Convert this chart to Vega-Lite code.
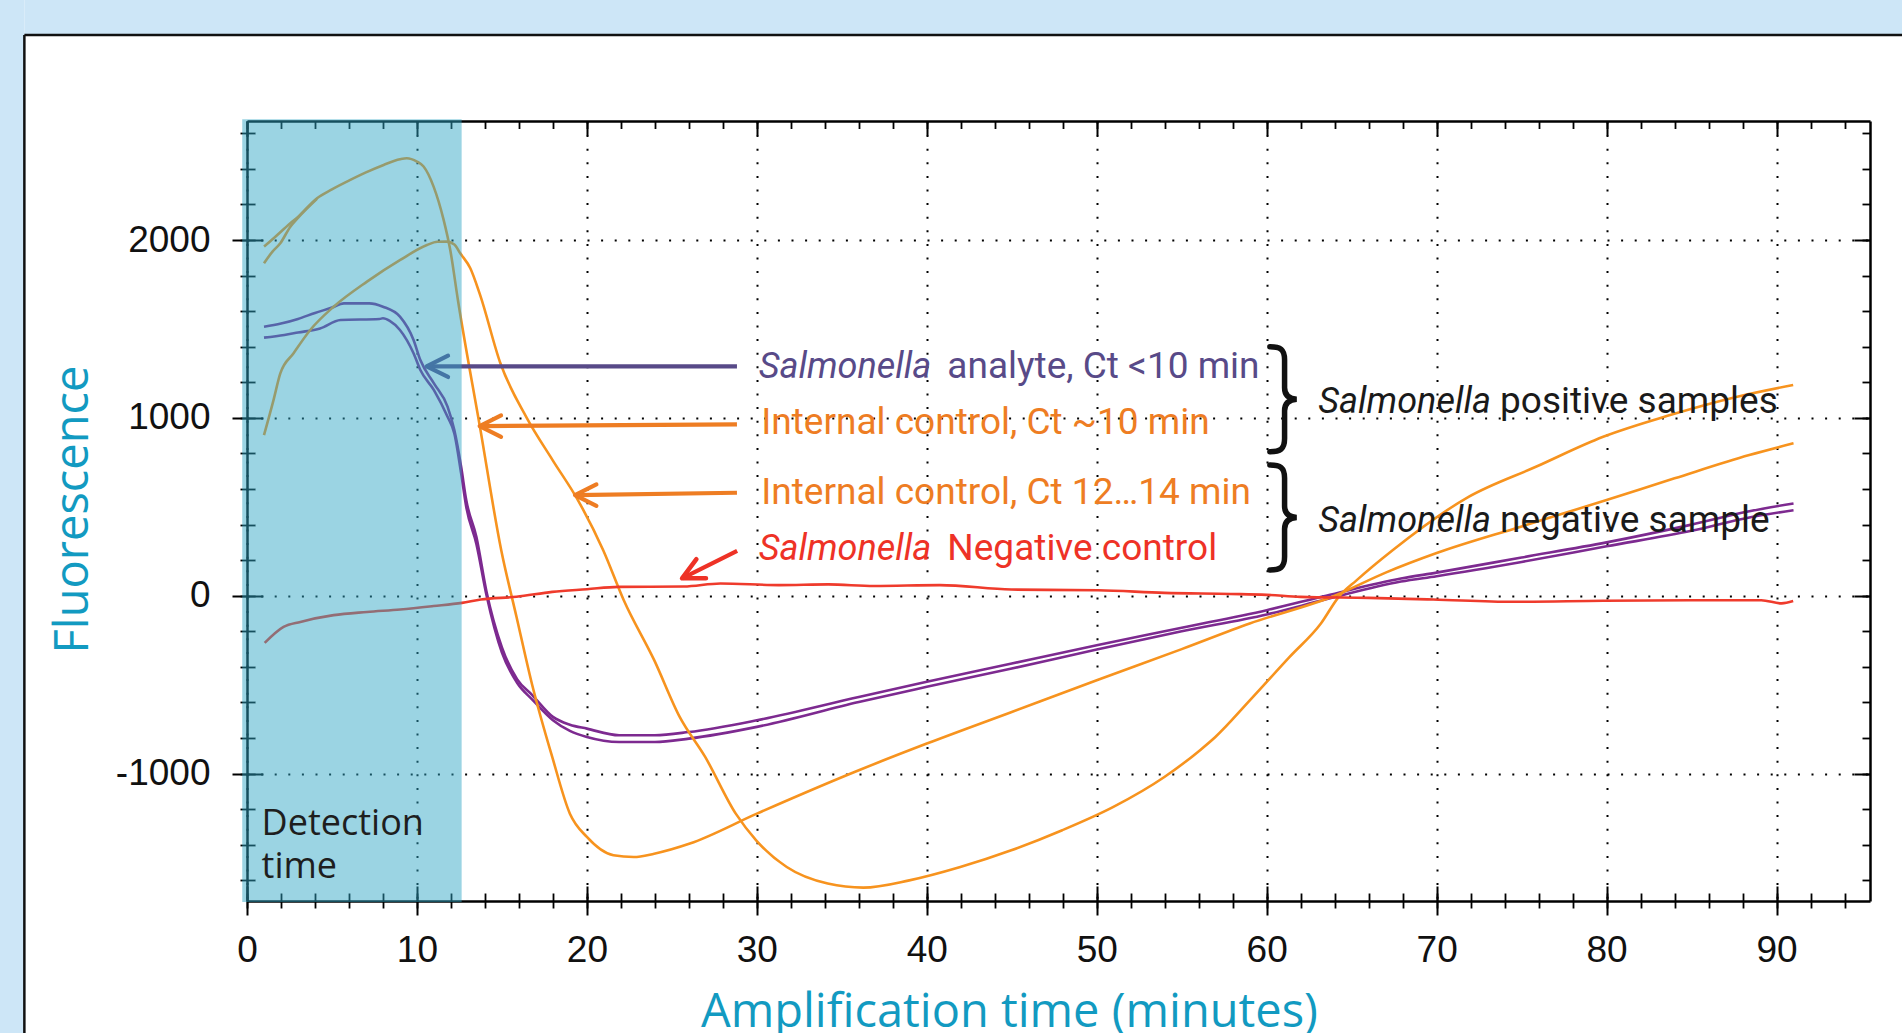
{
  "$schema": "https://vega.github.io/schema/vega-lite/v6.json",
  "width": 1623,
  "height": 780,
  "autosize": {"type": "none"},
  "padding": {"left": 247, "top": 121, "right": 32, "bottom": 132},
  "background": "#ffffff",
  "config": {"view": {"stroke": null}},
  "datasets": {
    "curves": [
      {"s":"A1","t":1.0,"v":1512},{"s":"A1","t":2.0,"v":1530},{"s":"A1","t":3.0,"v":1556},{"s":"A1","t":4.0,"v":1590},{"s":"A1","t":5.0,"v":1620},{"s":"A1","t":5.7,"v":1644},{"s":"A1","t":7.2,"v":1644},{"s":"A1","t":8.0,"v":1625},{"s":"A1","t":9.0,"v":1569},{"s":"A1","t":9.8,"v":1438},{"s":"A1","t":10.2,"v":1325},{"s":"A1","t":11.0,"v":1194},{"s":"A1","t":11.8,"v":1063},{"s":"A1","t":12.2,"v":931},{"s":"A1","t":12.6,"v":725},{"s":"A1","t":12.9,"v":538},{"s":"A1","t":13.5,"v":330},{"s":"A1","t":14.1,"v":20},{"s":"A1","t":15.0,"v":-290},{"s":"A1","t":15.9,"v":-470},{"s":"A1","t":16.8,"v":-560},{"s":"A1","t":18.0,"v":-681},{"s":"A1","t":19.0,"v":-725},{"s":"A1","t":20.0,"v":-747},{"s":"A1","t":21.9,"v":-784},{"s":"A1","t":24.0,"v":-784},{"s":"A1","t":26.0,"v":-766},{"s":"A1","t":30.0,"v":-700},{"s":"A1","t":36.0,"v":-569},{"s":"A1","t":40.0,"v":-484},{"s":"A1","t":45.0,"v":-381},{"s":"A1","t":50.0,"v":-278},{"s":"A1","t":55.0,"v":-180},{"s":"A1","t":60.0,"v":-81},{"s":"A1","t":63.5,"v":0},{"s":"A1","t":67.9,"v":97},{"s":"A1","t":70.0,"v":130},{"s":"A1","t":75.0,"v":215},{"s":"A1","t":80.0,"v":300},{"s":"A1","t":85.0,"v":400},{"s":"A1","t":88.4,"v":475},{"s":"A1","t":91.0,"v":519},
      {"s":"A2","t":1.0,"v":1451},{"s":"A2","t":2.2,"v":1466},{"s":"A2","t":3.0,"v":1480},{"s":"A2","t":4.3,"v":1503},{"s":"A2","t":5.5,"v":1550},{"s":"A2","t":7.8,"v":1556},{"s":"A2","t":8.0,"v":1560},{"s":"A2","t":8.4,"v":1545},{"s":"A2","t":9.0,"v":1494},{"s":"A2","t":9.8,"v":1363},{"s":"A2","t":10.2,"v":1269},{"s":"A2","t":11.0,"v":1156},{"s":"A2","t":11.8,"v":1006},{"s":"A2","t":12.2,"v":913},{"s":"A2","t":12.6,"v":688},{"s":"A2","t":12.9,"v":500},{"s":"A2","t":13.5,"v":290},{"s":"A2","t":14.1,"v":0},{"s":"A2","t":15.0,"v":-320},{"s":"A2","t":15.9,"v":-490},{"s":"A2","t":16.8,"v":-585},{"s":"A2","t":18.0,"v":-700},{"s":"A2","t":19.0,"v":-760},{"s":"A2","t":20.0,"v":-794},{"s":"A2","t":21.9,"v":-822},{"s":"A2","t":24.0,"v":-822},{"s":"A2","t":26.0,"v":-803},{"s":"A2","t":30.0,"v":-737},{"s":"A2","t":36.0,"v":-597},{"s":"A2","t":40.0,"v":-512},{"s":"A2","t":45.0,"v":-409},{"s":"A2","t":50.0,"v":-302},{"s":"A2","t":55.0,"v":-200},{"s":"A2","t":60.0,"v":-105},{"s":"A2","t":63.5,"v":-20},{"s":"A2","t":67.9,"v":80},{"s":"A2","t":70.0,"v":110},{"s":"A2","t":75.0,"v":190},{"s":"A2","t":80.0,"v":278},{"s":"A2","t":85.0,"v":365},{"s":"A2","t":88.4,"v":440},{"s":"A2","t":91.0,"v":481},
      {"s":"IC10a","t":1.0,"v":1963},{"s":"IC10a","t":1.57,"v":2010},{"s":"IC10a","t":2.55,"v":2094},{"s":"IC10a","t":3.0,"v":2130},{"s":"IC10a","t":4.12,"v":2235},{"s":"IC10a","t":5.0,"v":2285},{"s":"IC10a","t":6.08,"v":2338},{"s":"IC10a","t":7.0,"v":2380},{"s":"IC10a","t":8.04,"v":2422},{"s":"IC10a","t":9.0,"v":2454},{"s":"IC10a","t":9.4,"v":2460},{"s":"IC10a","t":10.0,"v":2441},{"s":"IC10a","t":10.39,"v":2413},{"s":"IC10a","t":10.98,"v":2300},{"s":"IC10a","t":11.57,"v":2113},{"s":"IC10a","t":11.96,"v":1944},{"s":"IC10a","t":12.41,"v":1663},{"s":"IC10a","t":13.7,"v":953},{"s":"IC10a","t":14.96,"v":256},{"s":"IC10a","t":15.86,"v":-119},{"s":"IC10a","t":16.76,"v":-493},{"s":"IC10a","t":17.96,"v":-906},{"s":"IC10a","t":19.0,"v":-1225},{"s":"IC10a","t":20.0,"v":-1356},{"s":"IC10a","t":21.56,"v":-1459},{"s":"IC10a","t":22.76,"v":-1469},{"s":"IC10a","t":23.96,"v":-1450},{"s":"IC10a","t":26.06,"v":-1393},{"s":"IC10a","t":30.0,"v":-1225},{"s":"IC10a","t":36.0,"v":-981},{"s":"IC10a","t":40.0,"v":-831},{"s":"IC10a","t":45.0,"v":-653},{"s":"IC10a","t":50.0,"v":-475},{"s":"IC10a","t":55.0,"v":-300},{"s":"IC10a","t":59.0,"v":-156},{"s":"IC10a","t":64.0,"v":0},{"s":"IC10a","t":67.0,"v":130},{"s":"IC10a","t":70.0,"v":240},{"s":"IC10a","t":75.0,"v":390},{"s":"IC10a","t":80.0,"v":538},{"s":"IC10a","t":84.0,"v":660},{"s":"IC10a","t":88.4,"v":791},{"s":"IC10a","t":91.0,"v":857},
      {"s":"IC10b","t":1.0,"v":1869},{"s":"IC10b","t":1.5,"v":1935},{"s":"IC10b","t":1.96,"v":1982},{"s":"IC10b","t":2.55,"v":2075},{"s":"IC10b","t":3.0,"v":2125},{"s":"IC10b","t":4.12,"v":2232},
      {"s":"IC14","t":1.0,"v":903},{"s":"IC14","t":1.56,"v":1100},{"s":"IC14","t":1.96,"v":1250},{"s":"IC14","t":2.74,"v":1363},{"s":"IC14","t":3.72,"v":1494},{"s":"IC14","t":5.1,"v":1625},{"s":"IC14","t":7.06,"v":1766},{"s":"IC14","t":9.02,"v":1888},{"s":"IC14","t":10.59,"v":1972},{"s":"IC14","t":11.2,"v":1990},{"s":"IC14","t":11.76,"v":1991},{"s":"IC14","t":12.2,"v":1975},{"s":"IC14","t":12.55,"v":1925},{"s":"IC14","t":13.14,"v":1841},{"s":"IC14","t":13.72,"v":1690},{"s":"IC14","t":14.9,"v":1310},{"s":"IC14","t":16.46,"v":1000},{"s":"IC14","t":18.0,"v":760},{"s":"IC14","t":19.47,"v":538},{"s":"IC14","t":20.96,"v":256},{"s":"IC14","t":22.17,"v":-25},{"s":"IC14","t":23.96,"v":-362},{"s":"IC14","t":25.46,"v":-681},{"s":"IC14","t":26.96,"v":-906},{"s":"IC14","t":28.76,"v":-1225},{"s":"IC14","t":29.96,"v":-1375},{"s":"IC14","t":31.76,"v":-1525},{"s":"IC14","t":34.17,"v":-1618},{"s":"IC14","t":36.27,"v":-1641},{"s":"IC14","t":38.97,"v":-1600},{"s":"IC14","t":41.97,"v":-1525},{"s":"IC14","t":44.97,"v":-1431},{"s":"IC14","t":47.97,"v":-1318},{"s":"IC14","t":50.98,"v":-1187},{"s":"IC14","t":53.98,"v":-1019},{"s":"IC14","t":56.08,"v":-868},{"s":"IC14","t":56.98,"v":-794},{"s":"IC14","t":59.02,"v":-587},{"s":"IC14","t":61.35,"v":-344},{"s":"IC14","t":63.19,"v":-156},{"s":"IC14","t":64.24,"v":-6},{"s":"IC14","t":65.3,"v":88},{"s":"IC14","t":67.41,"v":256},{"s":"IC14","t":71.88,"v":556},{"s":"IC14","t":75.84,"v":725},{"s":"IC14","t":79.8,"v":894},{"s":"IC14","t":83.74,"v":1016},{"s":"IC14","t":87.69,"v":1119},{"s":"IC14","t":90.98,"v":1185},
      {"s":"NC","t":1.04,"v":-265},{"s":"NC","t":2.15,"v":-175},{"s":"NC","t":3.14,"v":-147},{"s":"NC","t":5.1,"v":-109},{"s":"NC","t":7.06,"v":-91},{"s":"NC","t":9.02,"v":-77},{"s":"NC","t":10.98,"v":-58},{"s":"NC","t":12.65,"v":-40},{"s":"NC","t":13.76,"v":-21},{"s":"NC","t":15.86,"v":-6},{"s":"NC","t":17.96,"v":22},{"s":"NC","t":20.0,"v":37},{"s":"NC","t":21.86,"v":50},{"s":"NC","t":25.7,"v":52},{"s":"NC","t":27.86,"v":69},{"s":"NC","t":31.3,"v":60},{"s":"NC","t":34.2,"v":64},{"s":"NC","t":36.9,"v":55},{"s":"NC","t":40.77,"v":60},{"s":"NC","t":44.97,"v":35},{"s":"NC","t":50.08,"v":31},{"s":"NC","t":53.98,"v":16},{"s":"NC","t":57.88,"v":10},{"s":"NC","t":60.0,"v":5},{"s":"NC","t":62.0,"v":-6},{"s":"NC","t":66.0,"v":-12},{"s":"NC","t":69.8,"v":-21},{"s":"NC","t":74.5,"v":-34},{"s":"NC","t":79.8,"v":-28},{"s":"NC","t":85.05,"v":-25},{"s":"NC","t":89.1,"v":-25},{"s":"NC","t":90.3,"v":-43},{"s":"NC","t":90.98,"v":-30}
    ],
    "arrows": [
      {"g":"analyte","t1":28.83,"v1":1290,"t2":10.57,"v2":1290},
      {"g":"ic","t1":28.83,"v1":964,"t2":13.69,"v2":954},
      {"g":"ic","t1":28.83,"v1":579,"t2":19.3,"v2":566},
      {"g":"nc","t1":28.84,"v1":253,"t2":25.6,"v2":98}
    ],
    "texts": [
      {"g":"analyte","t":41.21,"v":1222,"txt":"analyte, Ct <10 min"},
      {"g":"ic","t":30.26,"v":909,"txt":"Internal control, Ct ~10 min"},
      {"g":"ic","t":30.26,"v":516,"txt":"Internal control, Ct 12…14 min"},
      {"g":"nc","t":41.21,"v":201,"txt":"Negative control"},
      {"g":"black","t":73.73,"v":1029,"txt":"positive samples"},
      {"g":"black","t":73.73,"v":360,"txt":"negative sample"}
    ],
    "notes": [
      {"t":0.86,"v":-1345,"txt":"Detection"},
      {"t":0.86,"v":-1588,"txt":"time"}
    ],
    "italics": [
      {"g":"analyte","t":30.11,"v":1222,"txt":"Salmonella"},
      {"g":"nc","t":30.11,"v":201,"txt":"Salmonella"},
      {"g":"black","t":63.04,"v":1029,"txt":"Salmonella"},
      {"g":"black","t":63.04,"v":360,"txt":"Salmonella"}
    ],
    "braces": [
      {"t":60.96,"v":1105},
      {"t":60.96,"v":440}
    ]
  },
  "layer": [
    {
      "data": {"values": [{}]},
      "mark": {"type": "rect", "color": "#cde6f7"},
      "encoding": {
        "x": {"datum": -13.1, "type": "quantitative", "scale": {"domain": [0, 95.5], "nice": false, "zero": false},
              "axis": {"orient": "top", "values": [0,10,20,30,40,50,60,70,80,90], "tickSize": -14, "tickWidth": 2, "tickColor": "#000", "domain": true, "domainColor": "#000", "domainWidth": 2.5, "labels": false, "grid": false, "title": null}},
        "x2": {"datum": 120},
        "y": {"datum": 3153, "type": "quantitative", "scale": {"domain": [-1716, 2669], "nice": false, "zero": false},
              "axis": {"orient": "right", "values": [-1000,0,1000,2000], "tickSize": -16, "tickWidth": 2, "tickColor": "#000", "domain": true, "domainColor": "#000", "domainWidth": 2.5, "labels": false, "grid": false, "title": null}},
        "y2": {"datum": 4000}
      }
    },
    {
      "data": {"values": [{}]},
      "mark": {"type": "rect", "color": "#cde6f7"},
      "encoding": {
        "x": {"datum": -20, "type": "quantitative", "scale": {"domain": [0, 95.5], "nice": false, "zero": false},
              "axis": {"orient": "top", "values": [0,2,4,6,8,10,12,14,16,18,20,22,24,26,28,30,32,34,36,38,40,42,44,46,48,50,52,54,56,58,60,62,64,66,68,70,72,74,76,78,80,82,84,86,88,90,92,94], "tickSize": -7.5, "tickWidth": 1.8, "tickColor": "#000", "domain": false, "labels": false, "grid": false, "title": null}},
        "x2": {"datum": -13.1},
        "y": {"datum": -3000, "type": "quantitative", "scale": {"domain": [-1716, 2669], "nice": false, "zero": false},
              "axis": {"orient": "right", "values": [-1600,-1400,-1200,-1000,-800,-600,-400,-200,0,200,400,600,800,1000,1200,1400,1600,1800,2000,2200,2400,2600], "tickSize": -8, "tickWidth": 1.8, "tickColor": "#000", "domain": false, "labels": false, "grid": false, "title": null}},
        "y2": {"datum": 4000}
      }
    },
    {
      "data": {"values": [{}]},
      "mark": {"type": "rule", "color": "#111", "strokeWidth": 2.5},
      "encoding": {
        "x": {"datum": -13.1, "type": "quantitative", "scale": {"domain": [0, 95.5], "nice": false, "zero": false},
              "axis": {"orient": "bottom", "values": [0,10,20,30,40,50,60,70,80,90], "tickSize": -15, "tickWidth": 2, "tickColor": "#000", "domain": false, "labels": false, "grid": false, "title": null}},
        "x2": {"datum": 120},
        "y": {"datum": 3153, "type": "quantitative", "scale": {"domain": [-1716, 2669], "nice": false, "zero": false},
              "axis": {"orient": "left", "values": [-1000,0,1000,2000], "tickSize": -16, "tickWidth": 2, "tickColor": "#000", "domain": false, "labels": false, "grid": false, "title": null}}
      }
    },
    {
      "data": {"values": [{}]},
      "mark": {"type": "rule", "color": "#111", "strokeWidth": 2.5},
      "encoding": {
        "x": {"datum": -13.1, "type": "quantitative", "scale": {"domain": [0, 95.5], "nice": false, "zero": false},
              "axis": {"orient": "bottom", "values": [0,2,4,6,8,10,12,14,16,18,20,22,24,26,28,30,32,34,36,38,40,42,44,46,48,50,52,54,56,58,60,62,64,66,68,70,72,74,76,78,80,82,84,86,88,90,92,94], "offset": -8, "tickSize": 15, "tickWidth": 1.8, "tickColor": "#000", "domain": false, "labels": false, "grid": false, "title": null}},
        "y": {"datum": 3153, "type": "quantitative", "scale": {"domain": [-1716, 2669], "nice": false, "zero": false},
              "axis": {"orient": "left", "values": [-1600,-1400,-1200,-1000,-800,-600,-400,-200,0,200,400,600,800,1000,1200,1400,1600,1800,2000,2200,2400,2600], "offset": -8, "tickSize": 15, "tickWidth": 1.8, "tickColor": "#000", "domain": false, "labels": false, "grid": false, "title": null}},
        "y2": {"datum": -3000}
      }
    },
    {
      "data": {"name": "curves"},
      "mark": {"type": "line", "interpolate": "monotone", "strokeJoin": "round"},
      "encoding": {
        "x": {"field": "t", "type": "quantitative", "scale": {"domain": [0, 95.5], "nice": false, "zero": false},
              "axis": {"orient": "bottom", "values": [0,10,20,30,40,50,60,70,80,90], "tickSize": 14, "tickWidth": 2, "tickColor": "#000", "domain": true, "domainColor": "#000", "domainWidth": 2.5,
                       "labelFont": "Liberation Sans", "labelFontSize": 37, "labelColor": "#111", "labelPadding": 46, "labelBaseline": "alphabetic", "labelFlush": false, "labelOverlap": false,
                       "grid": true, "gridColor": "#000", "gridWidth": 2, "gridDash": [2, 11.6],
                       "title": "Amplification time (minutes)", "titleFont": "Open Sans", "titleFontSize": 47, "titleFontWeight": "normal", "titleColor": "#129ac1",
                       "titleX": 762, "titleY": 125, "titleBaseline": "alphabetic", "titleAlign": "center"}},
        "y": {"field": "v", "type": "quantitative", "scale": {"domain": [-1716, 2669], "nice": false, "zero": false},
              "axis": {"orient": "left", "values": [-1000,0,1000,2000], "labelExpr": "'' + datum.value", "tickSize": 15, "tickWidth": 2, "tickColor": "#000", "domain": true, "domainColor": "#000", "domainWidth": 2.5,
                       "labelFont": "Liberation Sans", "labelFontSize": 37, "labelColor": "#111", "labelPadding": 22, "labelFlush": false, "labelOverlap": false,
                       "grid": true, "gridColor": "#000", "gridWidth": 2, "gridDash": [2, 11.6],
                       "title": "Fluorescence", "titleFont": "Open Sans", "titleFontSize": 47, "titleFontWeight": "normal", "titleColor": "#129ac1",
                       "titleX": -160, "titleY": 388, "titleBaseline": "alphabetic", "titleAlign": "center", "titleAngle": 270}},
        "color": {"field": "s", "type": "nominal", "legend": null,
                  "scale": {"domain": ["A1","A2","IC10a","IC10b","IC14","NC","analyte","ic","nc","black"], "range": ["#7d2a90","#7d2a90","#f7931e","#f7931e","#f7931e","#ef3b2c","#584a88","#ee7d23","#ee3226","#1a1a1a"]}},
        "strokeWidth": {"field": "s", "type": "ordinal", "legend": null,
                  "scale": {"domain": ["A1","A2","IC10a","IC10b","IC14","NC"], "range": [2.6,2.6,3.8,2.2,1.8,2.4]}}
      }
    },
    {
      "data": {"name": "arrows"},
      "mark": {"type": "rule", "strokeWidth": 4.2},
      "encoding": {
        "x": {"field": "t1", "type": "quantitative", "axis": null},
        "y": {"field": "v1", "type": "quantitative", "axis": null},
        "x2": {"field": "t2"},
        "y2": {"field": "v2"},
        "color": {"field": "g", "type": "nominal", "legend": null,
                  "scale": {"domain": ["A1","A2","IC10a","IC10b","IC14","NC","analyte","ic","nc","black"], "range": ["#7d2a90","#7d2a90","#f7931e","#f7931e","#f7931e","#ef3b2c","#584a88","#ee7d23","#ee3226","#1a1a1a"]}}
      }
    },
    {
      "data": {"name": "arrows"},
      "transform": [{"filter": "datum.g != 'nc'"}],
      "mark": {"type": "point", "shape": "M2,-1L0,0L2,1", "size": 458, "filled": false, "opacity": 1, "strokeWidth": 4.2, "strokeCap": "round", "strokeJoin": "round"},
      "encoding": {
        "x": {"field": "t2", "type": "quantitative", "axis": null},
        "y": {"field": "v2", "type": "quantitative", "axis": null},
        "color": {"field": "g", "type": "nominal", "legend": null,
                  "scale": {"domain": ["A1","A2","IC10a","IC10b","IC14","NC","analyte","ic","nc","black"], "range": ["#7d2a90","#7d2a90","#f7931e","#f7931e","#f7931e","#ef3b2c","#584a88","#ee7d23","#ee3226","#1a1a1a"]}}
      }
    },
    {
      "data": {"name": "arrows"},
      "transform": [{"filter": "datum.g == 'nc'"}],
      "mark": {"type": "point", "shape": "M2,-1L0,0L2,1", "size": 458, "filled": false, "opacity": 1, "strokeWidth": 4.5, "strokeCap": "round", "strokeJoin": "round", "angle": 333.4},
      "encoding": {
        "x": {"field": "t2", "type": "quantitative", "axis": null},
        "y": {"field": "v2", "type": "quantitative", "axis": null},
        "color": {"field": "g", "type": "nominal", "legend": null,
                  "scale": {"domain": ["A1","A2","IC10a","IC10b","IC14","NC","analyte","ic","nc","black"], "range": ["#7d2a90","#7d2a90","#f7931e","#f7931e","#f7931e","#ef3b2c","#584a88","#ee7d23","#ee3226","#1a1a1a"]}}
      }
    },
    {
      "data": {"values": [{}]},
      "mark": {"type": "rect", "color": "#2fa5c5", "opacity": 0.48},
      "encoding": {
        "x": {"datum": -0.28, "type": "quantitative", "axis": null},
        "x2": {"datum": 12.63},
        "y": {"datum": -1722, "type": "quantitative", "axis": null},
        "y2": {"datum": 2679}
      }
    },
    {
      "data": {"name": "texts"},
      "mark": {"type": "text", "font": "Roboto", "fontSize": 37, "align": "left", "baseline": "alphabetic"},
      "encoding": {
        "x": {"field": "t", "type": "quantitative", "axis": null},
        "y": {"field": "v", "type": "quantitative", "axis": null},
        "text": {"field": "txt"},
        "color": {"field": "g", "type": "nominal", "legend": null,
                  "scale": {"domain": ["A1","A2","IC10a","IC10b","IC14","NC","analyte","ic","nc","black"], "range": ["#7d2a90","#7d2a90","#f7931e","#f7931e","#f7931e","#ef3b2c","#584a88","#ee7d23","#ee3226","#1a1a1a"]}}
      }
    },
    {
      "data": {"name": "italics"},
      "mark": {"type": "text", "font": "Roboto", "fontSize": 36, "fontStyle": "italic", "align": "left", "baseline": "alphabetic"},
      "encoding": {
        "x": {"field": "t", "type": "quantitative", "axis": null},
        "y": {"field": "v", "type": "quantitative", "axis": null},
        "text": {"field": "txt"},
        "color": {"field": "g", "type": "nominal", "legend": null,
                  "scale": {"domain": ["A1","A2","IC10a","IC10b","IC14","NC","analyte","ic","nc","black"], "range": ["#7d2a90","#7d2a90","#f7931e","#f7931e","#f7931e","#ef3b2c","#584a88","#ee7d23","#ee3226","#1a1a1a"]}}
      }
    },
    {
      "data": {"name": "notes"},
      "mark": {"type": "text", "font": "Open Sans", "fontSize": 36, "align": "left", "baseline": "alphabetic", "color": "#1e1e1e"},
      "encoding": {
        "x": {"field": "t", "type": "quantitative", "axis": null},
        "y": {"field": "v", "type": "quantitative", "axis": null},
        "text": {"field": "txt"}
      }
    },
    {
      "data": {"name": "braces"},
      "mark": {"type": "point", "shape": "M-0.25,-1 C-0.05,-1 0.03,-0.95 0.03,-0.75 L0.03,-0.22 C0.03,-0.07 0.12,-0.01 0.26,0 C0.12,0.01 0.03,0.07 0.03,0.22 L0.03,0.75 C0.03,0.95 -0.05,1 -0.25,1", "size": 11025, "filled": false, "opacity": 1, "stroke": "#111", "strokeWidth": 5.5, "strokeCap": "round"},
      "encoding": {
        "x": {"field": "t", "type": "quantitative", "axis": null},
        "y": {"field": "v", "type": "quantitative", "axis": null}
      }
    }
  ],
  "resolve": {"axis": {"x": "independent", "y": "independent"}}
}
